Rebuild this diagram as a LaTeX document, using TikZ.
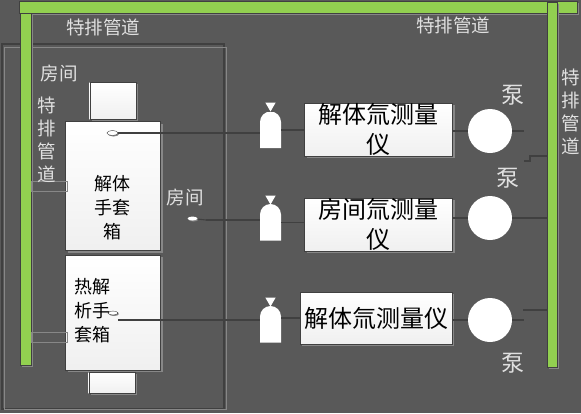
\documentclass[tikz,border=0pt]{standalone}
\usepackage{fontspec}
\setmainfont{Noto Sans CJK SC}
\usepackage{xcolor}
\definecolor{roomgrey}{RGB}{89, 89, 89}
\definecolor{edgedeep}{RGB}{64, 64, 64}
\definecolor{shadegrey}{RGB}{135, 135, 135}
\definecolor{ductgreen}{RGB}{146, 208, 80}
\usetikzlibrary{
  positioning,
  shapes.geometric,
  shadows
}
\tikzset{
  offset/.style={drop shadow={shadow xshift=2pt, shadow yshift=-2pt, fill=shadegrey, opacity=1}},
  duct/.style={rectangle, draw=edgedeep, fill=ductgreen, inner sep=0pt, offset},
  box/.style={rectangle, draw=edgedeep, top color=white, bottom color=black!6, inner sep=0pt, align=center, text=black, offset},
  stub/.style={rectangle, draw=shadegrey, inner sep=0pt},
  pipe/.style={draw=edgedeep, line width=1.1pt},
  pumpdisc/.style={circle, fill=white, minimum size=44pt, inner sep=0pt},
  nozzle/.style={ellipse, draw=edgedeep, fill=white, inner sep=0pt, minimum width=11pt, minimum height=5pt, drop shadow={shadow xshift=1pt, shadow yshift=-1pt, fill=shadegrey, opacity=1}},
  valve/.style={regular polygon, regular polygon sides=3, shape border rotate=180, fill=white, inner sep=0pt, minimum size=12pt},
  bottle/.style={rectangle, inner sep=0pt, minimum width=21pt, minimum height=36pt, path picture={
    \fill[white] (path picture bounding box.south west) -- ++(0,26pt) arc[start angle=180, end angle=0, radius=10.5pt] -- (path picture bounding box.south east) -- cycle;}},
  graylabel/.style={text=white!88!black, font=\fontsize{18.5}{23}\selectfont, inner sep=0pt, align=center},
  darklabel/.style={text=black, font=\fontsize{18}{24}\selectfont, inner sep=0pt, align=center},
  metertext/.style={font=\fontsize{24}{30}\selectfont},
  pumplabel/.style={text=white!88!black, font=\fontsize{23}{24}\selectfont, inner sep=0pt}
}
\begin{document}
\begin{tikzpicture}[x=1pt, y=-1pt]
  \useasboundingbox[fill=roomgrey] (0, 0) rectangle (581, 413);

  % the room frame, a dark line and a light line
  \node[rectangle, draw=edgedeep, line width=1.6pt, minimum width=222pt, minimum height=365pt, inner sep=0pt] (roomdark) at (113, 226.5) {};
  \node[rectangle, draw=shadegrey, line width=1.6pt, minimum width=222pt, minimum height=362pt, inner sep=0pt] (roomlight) at (115.5, 228.5) {};

  % exhaust ducts
  \node[duct, minimum width=558pt, minimum height=12pt] (topduct) at (298, 7) {};
  \node[duct, minimum width=11pt, minimum height=352pt] (leftduct) at (25.5, 189) {};
  \node[duct, minimum width=10pt, minimum height=365pt] (rightduct) at (552, 184.5) {};

  % glove boxes
  \node[box, minimum width=46pt, minimum height=37pt] (topcap) at (112.7, 100.5) {};
  \node[box, minimum width=95pt, minimum height=129pt] (dismantle) at (113, 186) {};
  \node[box, minimum width=95pt, minimum height=115pt] (pyrolysis) at (113, 312.5) {};
  \node[box, minimum width=46pt, minimum height=21pt] (bottomcap) at (111.7, 382.5) {};

  % stubs from the left duct to the boxes
  \node[stub, minimum width=36pt, minimum height=10pt] (stubA) at (49, 186) {};
  \node[stub, minimum width=36pt, minimum height=10pt] (stubB) at (49, 337) {};

  % sampling points
  \node[nozzle] (nozzleA) at (112.5, 133) {};
  \node[nozzle, draw=none, minimum width=10pt, minimum height=4pt] (nozzleB) at (192.5, 218.5) {};
  \node[nozzle, minimum width=10pt, minimum height=4pt] (nozzleC) at (113, 313) {};
  \coordinate (tapB) at (206, 220);
  \coordinate (tapC) at (118, 320);

  % bottles
  \node[bottle] (bottleA) at (270.5, 130) {};
  \node[bottle] (bottleB) at (270.5, 222.5) {};
  \node[bottle] (bottleC) at (270.5, 324.5) {};
  \node[valve] (valveA) at (270.5, 105.5) {};
  \node[valve] (valveB) at (270.5, 198.5) {};
  \node[valve] (valveC) at (270.5, 300.5) {};

  % meters
  \node[box, metertext, minimum width=148pt, minimum height=53pt] (meterA) at (378.5, 129.5) {解体氚测量\\仪};
  \node[box, metertext, minimum width=148pt, minimum height=53pt] (meterB) at (378.5, 224.5) {房间氚测量\\仪};
  \node[box, metertext, minimum width=152pt, minimum height=52pt] (meterC) at (376, 318) {解体氚测量仪};

  % pumps
  \node[pumpdisc] (pumpA) at (490, 131) {};
  \node[pumpdisc] (pumpB) at (490, 218) {};
  \node[pumpdisc] (pumpC) at (490, 320) {};
  \coordinate (outA) at (524, 131);
  \coordinate (outC) at (524, 320);
  \coordinate (stepA) at (524, 161);
  \coordinate (stepC) at (523, 310);

  % sample lines
  \draw[pipe] (nozzleA) -- (nozzleA -| bottleA.west);
  \draw[pipe] (tapB) -- (tapB -| bottleB.west);
  \draw[pipe] (tapC) -- (tapC -| bottleC.west);
  \draw[pipe] (bottleA.east) -- (bottleA.east -| meterA.west);
  \draw[pipe] (bottleB.east) -- (bottleB.east -| meterB.west);
  \draw[pipe] (bottleC.east |- meterC.west) -- (meterC.west);
  \draw[pipe] (nozzleB) -- (tapB);
  \draw[pipe] (meterA.east |- pumpA) -- (pumpA);
  \draw[pipe] (meterB.east |- pumpB) -- (pumpB);
  \draw[pipe] (meterC.east |- pumpC) -- (pumpC);

  % lines towards the right duct
  \draw[pipe] (pumpA) -- (outA);
  \draw[pipe] (pumpC) -- (outC);
  \draw[pipe] (pumpB) -- (pumpB -| rightduct.west);
  \draw[pipe] (stepA) -- ++(6, 0) -- ++(0, -5) -- (rightduct.west |- 0, 156);
  \draw[pipe] (stepC) -- (stepC -| rightduct.west);

  % labels
  \node[graylabel] (ductTextA) at (103, 27) {特排管道};
  \node[graylabel] (ductTextB) at (453, 25) {特排管道};
  \node[graylabel] (ductTextC) at (47, 140) {特\\排\\管\\道};
  \node[graylabel] (ductTextD) at (571, 112) {特\\排\\管\\道};
  \node[graylabel] (roomTextA) at (59, 73) {房间};
  \node[graylabel] (roomTextB) at (185, 197) {房间};
  \node[darklabel] (dismantleText) at (112.5, 208) {解体\\手套\\箱};
  \node[darklabel] (pyrolysisText) at (92.5, 311) {热解\\析手\\套箱};
  \node[pumplabel] (pumpTextA) at (513, 95) {泵};
  \node[pumplabel] (pumpTextB) at (508, 178) {泵};
  \node[pumplabel] (pumpTextC) at (513, 363) {泵};

\end{tikzpicture}
\end{document}
